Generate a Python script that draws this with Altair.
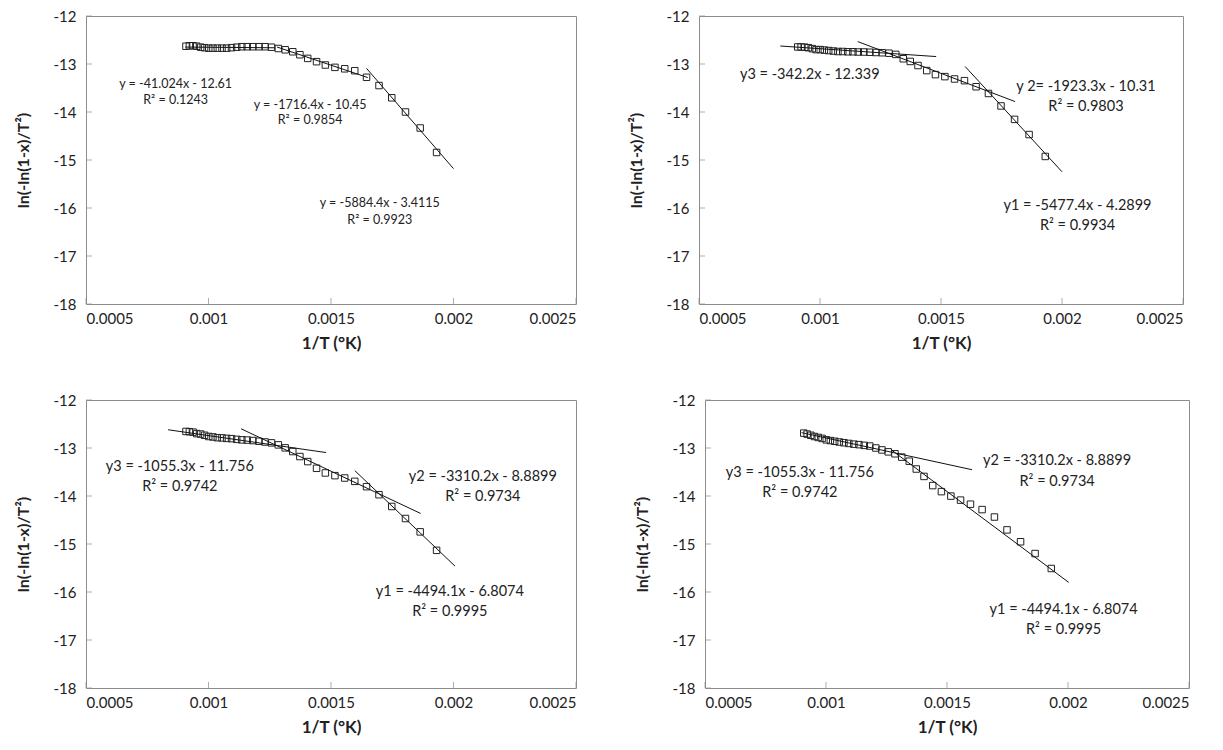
import altair as alt
import pandas as pd

FONT = "Lato"
INK = "#222222"
FRAME = "#8c8c8c"

# 1/T values (shared by all four runs)
X = [0.000908, 0.000922, 0.000937, 0.000952, 0.000968, 0.000984, 0.001001, 0.001018,
     0.001036, 0.001055, 0.001074, 0.001094, 0.001115, 0.001136, 0.001158, 0.001181,
     0.001206, 0.001231, 0.001257, 0.001285, 0.001313, 0.001344, 0.001373, 0.001405,
     0.001441, 0.001477, 0.001516, 0.001556, 0.001597, 0.001645, 0.001696, 0.001748,
     0.001804, 0.001864, 0.001931]

# ln(-ln(1-x)/T^2) for each panel
Y_A = [-12.63, -12.62, -12.62, -12.63, -12.65, -12.66, -12.67, -12.67, -12.67, -12.67,
       -12.67, -12.66, -12.65, -12.64, -12.64, -12.64, -12.64, -12.64, -12.65, -12.677,
       -12.704, -12.745, -12.807, -12.883, -12.952, -13.021, -13.07, -13.10, -13.14,
       -13.277, -13.449, -13.704, -14.0, -14.333, -14.843]
Y_B = [-12.645, -12.645, -12.65, -12.66, -12.68, -12.70, -12.70, -12.71, -12.72, -12.73,
       -12.74, -12.74, -12.745, -12.745, -12.75, -12.75, -12.755, -12.76, -12.765, -12.775,
       -12.80, -12.891, -12.947, -13.032, -13.137, -13.221, -13.263, -13.312, -13.347,
       -13.474, -13.614, -13.874, -14.154, -14.47, -14.926]
Y_C = [-12.655, -12.66, -12.67, -12.70, -12.71, -12.735, -12.76, -12.77, -12.785, -12.79,
       -12.80, -12.805, -12.82, -12.83, -12.835, -12.845, -12.86, -12.875, -12.893, -12.935,
       -12.997, -13.074, -13.178, -13.283, -13.423, -13.52, -13.576, -13.625, -13.695,
       -13.806, -13.973, -14.218, -14.469, -14.747, -15.132]
Y_D = [-12.69, -12.71, -12.735, -12.76, -12.78, -12.80, -12.83, -12.845, -12.86, -12.875,
       -12.89, -12.905, -12.92, -12.93, -12.945, -12.96, -13.0, -13.04, -13.08, -13.12,
       -13.19, -13.275, -13.438, -13.592, -13.783, -13.909, -14.002, -14.086, -14.171,
       -14.283, -14.438, -14.706, -14.953, -15.199, -15.51]

# trend line end points (x0, y0, x1, y1) per panel
LINES_A = [(0.000905, -12.647, 0.00127, -12.662),
           (0.00128, -12.647, 0.00165, -13.282),
           (0.001645, -13.091, 0.002, -15.18)]
LINES_B = [(0.000836, -12.625, 0.00148, -12.845),
           (0.001156, -12.533, 0.001806, -13.783),
           (0.0016, -13.054, 0.002, -15.245)]
LINES_C = [(0.000835, -12.62, 0.00148, -13.095),
           (0.001133, -12.60, 0.001866, -14.364),
           (0.001597, -13.47, 0.002006, -15.46)]
LINES_D = [(0.000899, -12.68, 0.001603, -13.452),
           (0.00127, -13.04, 0.002003, -15.80)]

# equation labels (x, y, text)
LABELS_A = [(0.000866, -13.414, "y = -41.024x - 12.61"), (0.000866, -13.76, "R² = 0.1243"),
            (0.001415, -13.849, "y = -1716.4x - 10.45"), (0.001415, -14.174, "R² = 0.9854"),
            (0.001699, -15.899, "y = -5884.4x - 3.4115"), (0.001699, -16.244, "R² = 0.9923")]
LABELS_B = [(0.000958, -13.228, "y3 = -342.2x - 12.339"),
            (0.002099, -13.488, "y 2= -1923.3x - 10.31"), (0.002099, -13.888, "R² = 0.9803"),
            (0.002064, -15.958, "y1 = -5477.4x - 4.2899"), (0.002064, -16.379, "R² = 0.9934")]
LABELS_C = [(0.000883, -13.387, "y3 = -1055.3x - 11.756"), (0.000883, -13.805, "R² = 0.9742"),
            (0.00212, -13.611, "y2 = -3310.2x - 8.8899"), (0.00212, -14.03, "R² = 0.9734"),
            (0.001985, -15.996, "y1 = -4494.1x - 6.8074"), (0.001985, -16.414, "R² = 0.9995")]
LABELS_D = [(0.000892, -13.522, "y3 = -1055.3x - 11.756"), (0.000892, -13.93, "R² = 0.9742"),
            (0.001955, -13.275, "y2 = -3310.2x - 8.8899"), (0.001955, -13.712, "R² = 0.9734"),
            (0.001982, -16.376, "y1 = -4494.1x - 6.8074"), (0.001982, -16.785, "R² = 0.9995")]

X_TICKS = [0.0005, 0.001, 0.0015, 0.002, 0.0025]
Y_TICKS = [-12, -13, -14, -15, -16, -17, -18]
X_TITLE = "1/T (°K)"
Y_TITLE = "ln(-ln(1-x)/T²)"

W, H = 490, 288


def panel(ys, lines, labels, label_size, width=W):
    xs = alt.Scale(domain=[0.0005, 0.0025], nice=False, zero=False)
    yscale = alt.Scale(domain=[-18, -12], nice=False, zero=False)
    xaxis = alt.Axis(values=X_TICKS, format="~g", title=X_TITLE, labelPadding=7,
                     titleY=39, titleBaseline="middle", titleFontSize=17)
    yaxis = alt.Axis(values=Y_TICKS, title=Y_TITLE, labelExpr="'' + datum.value",
                     titleX=-63, titleBaseline="middle", titleFontSize=16)

    pts = pd.DataFrame({"x": X, "y": ys})
    rows = []
    for i, (x0, y0, x1, y1) in enumerate(lines):
        rows.append({"id": i, "x": x0, "y": y0})
        rows.append({"id": i, "x": x1, "y": y1})
    ldf = pd.DataFrame(rows)
    tdf = pd.DataFrame(labels, columns=["x", "y", "t"])

    enc_x = alt.X("x:Q", scale=xs, axis=xaxis, title=X_TITLE)
    enc_y = alt.Y("y:Q", scale=yscale, axis=yaxis, title=Y_TITLE)

    points = alt.Chart(pts).mark_point(shape="square", filled=False, size=42,
                                       strokeWidth=1, color=INK, opacity=1).encode(
        x=enc_x, y=enc_y)
    fit = alt.Chart(ldf).mark_line(color="#111111", strokeWidth=1).encode(
        x=enc_x, y=enc_y, detail="id:N")
    text = alt.Chart(tdf).mark_text(font=FONT, fontSize=label_size, color=INK,
                                    align="center", baseline="middle").encode(
        x=enc_x, y=enc_y, text="t:N")
    xt = alt.Chart(pd.DataFrame({"x": X_TICKS})).mark_tick(
        orient="vertical", size=6, thickness=1, color=FRAME).encode(
        x=enc_x, y=alt.value(H - 3))
    yt = alt.Chart(pd.DataFrame({"y": Y_TICKS})).mark_tick(
        orient="horizontal", size=6, thickness=1, color=FRAME).encode(
        y=enc_y, x=alt.value(3))
    return alt.layer(points, fit, text, xt, yt).properties(width=width, height=H)


top = alt.hconcat(panel(Y_A, LINES_A, LABELS_A, 12.5),
                  panel(Y_B, LINES_B, LABELS_B, 14.5, 484), spacing=50)
bottom = alt.hconcat(panel(Y_C, LINES_C, LABELS_C, 14.5),
                     panel(Y_D, LINES_D, LABELS_D, 14.5, 484), spacing=56)

chart = alt.vconcat(top, bottom, spacing=40).properties(
    padding={"left": 6, "top": 0, "right": 5, "bottom": 5}
).configure_view(stroke=FRAME, strokeWidth=1).configure_axis(
    domain=False, ticks=False, tickSize=0, grid=False,
    labelFont=FONT, labelFontSize=15, labelColor=INK, labelPadding=10,
    titleFont=FONT, titleFontSize=16, titleFontWeight="bold", titleColor=INK,
)

chart.save("out.html", embed_options={"renderer": "svg", "actions": False})
